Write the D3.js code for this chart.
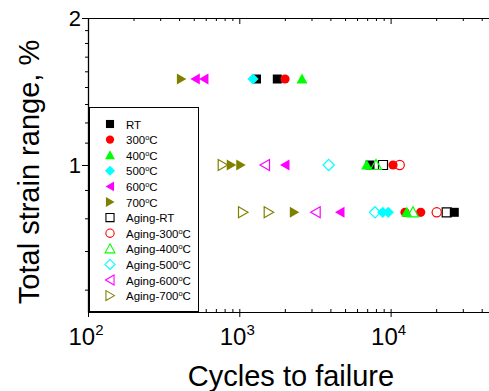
<!DOCTYPE html>
<html>
<head>
<meta charset="utf-8">
<script src="https://cdn.jsdelivr.net/npm/d3@7"></script>
<style>
  body { margin: 0; background: #fff; }
  svg { display: block; font-family: "Liberation Sans", Arial, sans-serif; }
</style>
</head>
<body>
<svg width="489" height="391"></svg>
<script>
// data: [cycles to failure, total strain range %]
const RT        = [[1299, 1.5], [1783, 1.5], [7308, 1.0], [26360, 0.8]];
const T300      = [[2005, 1.5], [10373, 1.0], [12450, 0.8], [15810, 0.8]];
const T400      = [[2597, 1.5], [6950, 1.0], [12775, 0.8]];
const T500      = [[1232, 1.5], [8866, 0.8], [9656, 0.8]];
const T600      = [[512, 1.5], [584, 1.5], [2005, 1.0], [4630, 0.8]];
const T700      = [[414, 1.5], [885, 1.0], [1022, 1.0], [2310, 0.8]];
const agingRT   = [[8907, 1.0], [23490, 0.8]];
const aging300  = [[11489, 1.0], [20170, 0.8]];
const aging400  = [[8009, 1.0], [14060, 0.8]];
const aging500  = [[3898, 1.0], [7887, 0.8]];
const aging600  = [[1479, 1.0], [3198, 0.8]];
const aging700  = [[777, 1.0], [1058, 0.8], [1564, 0.8]];

const seriesLabels = [["RT"], ["300", "C"], ["400", "C"], ["500", "C"], ["600", "C"], ["700", "C"],
  ["Aging-RT"], ["Aging-300", "C"], ["Aging-400", "C"], ["Aging-500", "C"], ["Aging-600", "C"], ["Aging-700", "C"]];

const xMajor = [100, 1000, 10000];
const xMinor = [200, 300, 400, 500, 600, 700, 800, 900, 2000, 3000, 4000, 5000, 6000, 7000, 8000, 9000, 20000, 30000, 40000];
const yMajor = [1, 2];
const yMinor = [5/9, 6/9, 7/9, 8/9, 10/9, 11/9, 12/9, 13/9, 14/9, 15/9, 16/9, 17/9];

const series = [
  {data: RT, shape: "square", color: "#000000", open: false},
  {data: T300, shape: "circle", color: "#ff0000", open: false},
  {data: T400, shape: "up", color: "#00ff00", open: false},
  {data: T500, shape: "diamond", color: "#00ffff", open: false},
  {data: T600, shape: "left", color: "#ff00ff", open: false},
  {data: T700, shape: "right", color: "#808000", open: false},
  {data: agingRT, shape: "square", color: "#000000", open: true},
  {data: aging300, shape: "circle", color: "#ff0000", open: true},
  {data: aging400, shape: "up", color: "#00ff00", open: true},
  {data: aging500, shape: "diamond", color: "#00ffff", open: true},
  {data: aging600, shape: "left", color: "#ff00ff", open: true},
  {data: aging700, shape: "right", color: "#808000", open: true}
];

const shapes = {
  square: "M-4.5,-4.5h9v9h-9Z",
  circle: "M4.6,0A4.6,4.6 0 1,1 -4.6,0A4.6,4.6 0 1,1 4.6,0Z",
  up: "M0,-5.5L5.5,4.5L-5.5,4.5Z",
  diamond: "M0,-5.6L5.6,0L0,5.6L-5.6,0Z",
  left: "M-5,0L4.5,-5.5L4.5,5.5Z",
  right: "M5,0L-4.5,-5.5L-4.5,5.5Z"
};

var svg = d3.select("svg");
var left = 88, top_ = 18, bottom = 312;

var x = d3.scaleLog().domain([100, 100000]).range([left, left + 3 * 151.3]);
var y = d3.scaleLog().base(2).domain([0.5, 2]).range([bottom, top_]);

// axes
svg.append("g").attr("transform", "translate(0," + bottom + ")")
  .call(d3.axisBottom(x).tickValues(xMinor).tickSizeInner(-3).tickSizeOuter(0).tickFormat(""));
svg.append("g").attr("transform", "translate(0," + bottom + ")")
  .call(d3.axisBottom(x).tickValues(xMajor).tickSizeInner(5).tickSizeOuter(0).tickFormat(""))
  .call(g => g.select(".domain").remove());
svg.append("g").attr("transform", "translate(0," + bottom + ")")
  .call(d3.axisBottom(x).tickValues(xMajor).tickSizeInner(-3).tickSizeOuter(0).tickFormat(""))
  .call(g => g.select(".domain").remove());

svg.append("g").attr("transform", "translate(0," + top_ + ")")
  .call(d3.axisTop(x).tickValues(xMinor).tickSizeInner(-3).tickSizeOuter(0).tickFormat(""));
svg.append("g").attr("transform", "translate(0," + top_ + ")")
  .call(d3.axisTop(x).tickValues(xMajor).tickSizeInner(-6).tickSizeOuter(0).tickFormat(""))
  .call(g => g.select(".domain").remove());

svg.append("g").attr("transform", "translate(" + left + ",0)")
  .call(d3.axisLeft(y).tickValues(yMinor).tickSizeInner(3).tickSizeOuter(0).tickFormat(""))
  .call(g => g.select(".domain").attr("stroke-width", 1.3));
svg.append("g").attr("transform", "translate(" + left + ",0)")
  .call(d3.axisLeft(y).tickValues(yMajor).tickSizeInner(6).tickSizeOuter(0).tickFormat(""))
  .call(g => g.select(".domain").remove());

svg.selectAll(".tick line").attr("stroke", "#000");
svg.selectAll(".domain").attr("stroke", "#000");

// tick labels
var xl = svg.append("g").selectAll("text").data(xMajor).enter().append("text")
  .attr("x", d => x(d) - 2)
  .attr("y", 345)
  .attr("text-anchor", "middle")
  .style("font-size", "24px")
  .attr("fill", "#000");
xl.append("tspan").text("10");
xl.append("tspan").attr("dy", -10).style("font-size", "15px").text(d => Math.round(Math.log10(d)));

svg.append("g").selectAll("text").data(yMajor).enter().append("text")
  .attr("x", 81)
  .attr("y", d => y(d) + 8)
  .attr("text-anchor", "end")
  .style("font-size", "22px")
  .attr("fill", "#000")
  .text(d => d);

// axis titles
svg.append("text")
  .attr("transform", "translate(39,172) rotate(-90)")
  .attr("text-anchor", "middle")
  .style("font-size", "29px")
  .text("Total strain range, %");
svg.append("text")
  .attr("x", 291).attr("y", 386)
  .attr("text-anchor", "middle")
  .style("font-size", "29px")
  .text("Cycles to failure");

// points
series.forEach(function(s) {
  svg.append("g").selectAll("path").data(s.data).enter().append("path")
    .attr("transform", d => "translate(" + x(d[0]) + "," + y(d[1]) + ")")
    .attr("d", shapes[s.shape])
    .attr("fill", s.open ? "none" : s.color)
    .attr("stroke", s.color)
    .attr("stroke-width", s.open ? 1.2 : 0);
});

// legend
svg.append("rect").attr("x", 89.5).attr("y", 107.5).attr("width", 109).attr("height", 204)
  .attr("fill", "white").attr("stroke", "black").attr("stroke-width", 1);

var leg = svg.append("g").selectAll("g").data(series).enter().append("g")
  .attr("transform", (d, i) => "translate(110," + (124 + i * 15.6) + ")");
leg.append("path")
  .attr("d", d => shapes[d.shape])
  .attr("transform", "scale(0.9)")
  .attr("fill", d => d.open ? "none" : d.color)
  .attr("stroke", d => d.color)
  .attr("stroke-width", d => d.open ? 1.2 : 0);
var lt = leg.append("text")
  .attr("x", 16).attr("y", 4.5)
  .style("font-size", "11.5px")
  .attr("fill", "#000");
lt.each(function(d, i) {
  var t = d3.select(this), lab = seriesLabels[i];
  t.append("tspan").text(lab[0]);
  if (lab.length > 1) {
    t.append("tspan").attr("dy", -4).style("font-size", "7.5px").text("o");
    t.append("tspan").attr("dy", 4).text(lab[1]);
  }
});
</script>
</body>
</html>
